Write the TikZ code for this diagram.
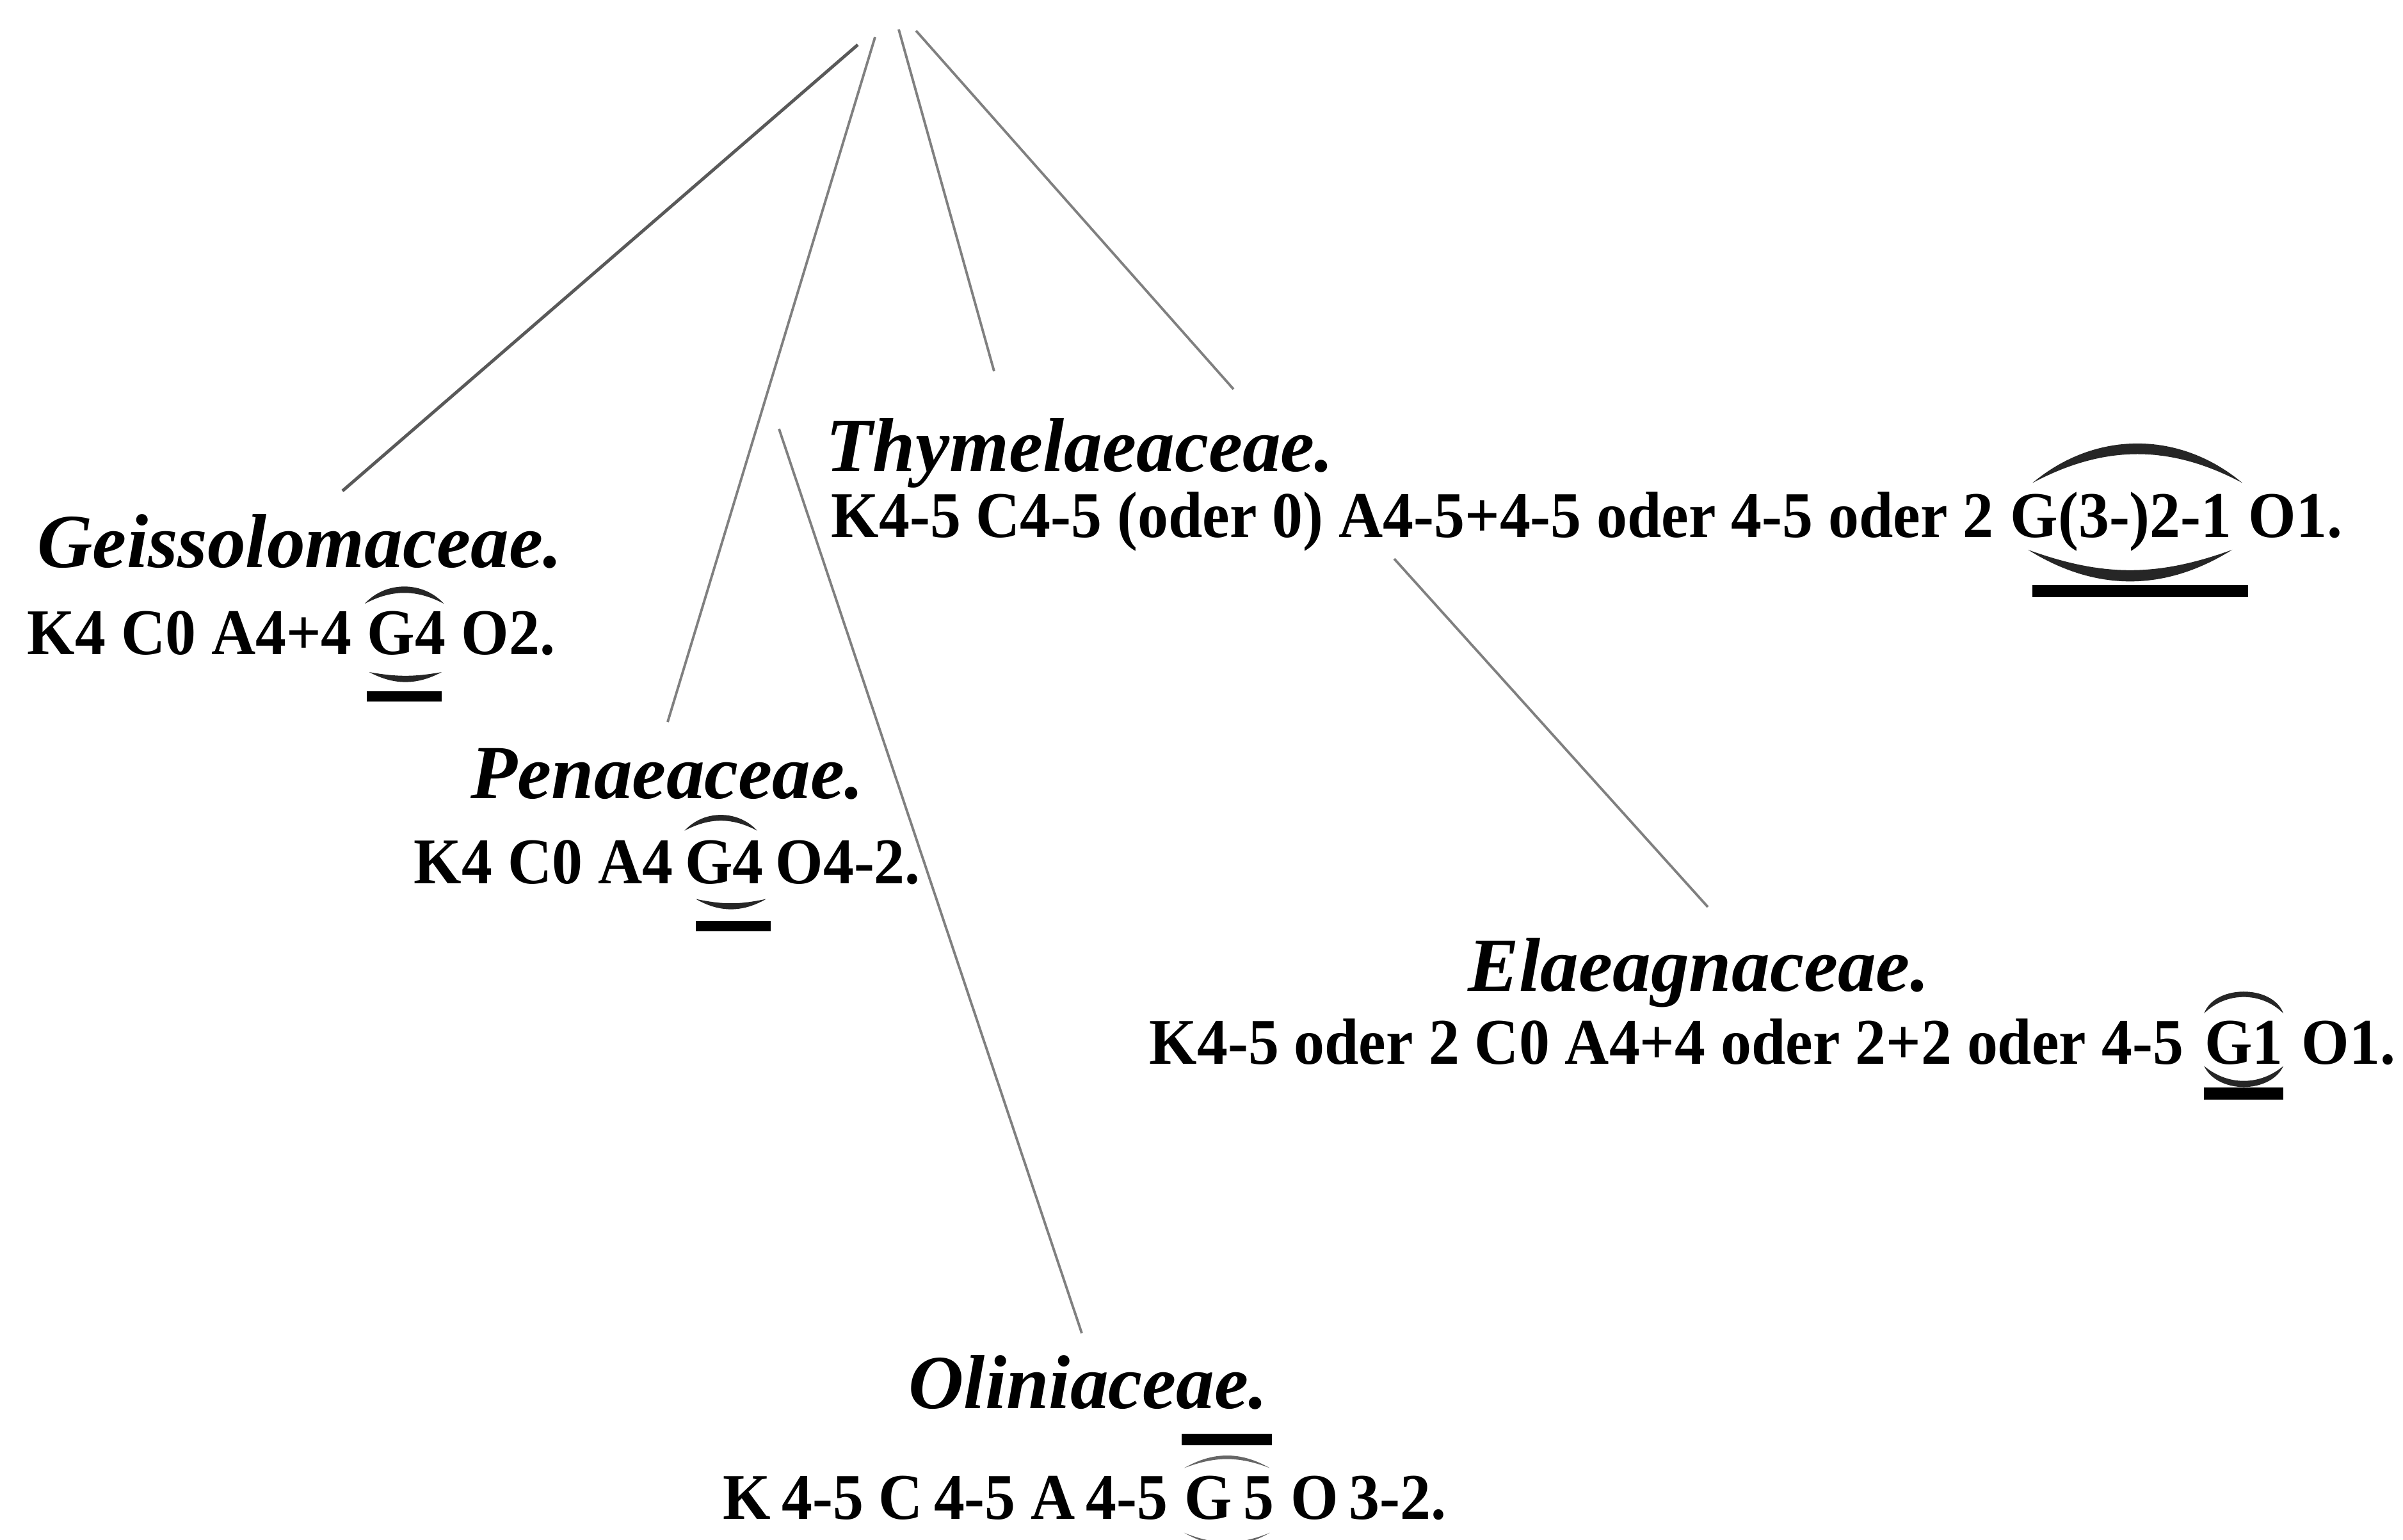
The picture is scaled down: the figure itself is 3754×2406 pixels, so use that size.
\documentclass[tikz,border=0pt]{standalone}
\usepackage{fontspec}
\setmainfont{Liberation Serif}
\newfontfamily\namefam{Liberation Serif}
\newfontfamily\formfam[FakeStretch=0.94]{Liberation Serif}
\tikzset{
  famname/.style={font=\namefam\fontsize{34}{40}\selectfont\bfseries\itshape, anchor=base west, inner sep=0pt},
  formula/.style={font=\formfam\fontsize{29}{34}\selectfont\bfseries, anchor=base west, inner sep=0pt},
  branch/.style={draw=black!50, line width=1.1pt},
  tie/.style={fill=black!85},
  bar/.style={fill=black}
}

\begin{document}
\begin{tikzpicture}[x=0.1mm, y=-0.1mm]
\useasboundingbox (0,0) rectangle (3754,2406);

% family names
\node[famname] (geiss) at (58,887) {Geissolomaceae.};
\node[famname] (pen) at (735,1247) {Penaeaceae.};
\node[famname] (thym) at (1290,737) {Thymelaeaceae.};
\node[famname] (elae) at (2293,1548) {Elaeagnaceae.};
\node[famname] (oli) at (1419,2200) {Oliniaceae.};

% floral formulas
\node[formula] (geissk) at (42,1022) {K4 C0 A4+4};
\node[formula, xshift=6.5pt] (geissg) at (geissk.base east) {G4};
\node[formula, xshift=6.5pt] (geisso) at (geissg.base east) {O2.};

\node[formula] (penk) at (646,1380) {K4 C0 A4};
\node[formula, xshift=5pt] (peng) at (penk.base east) {G4};
\node[formula, xshift=5pt] (peno) at (peng.base east) {O4-2.};

\node[formula] (thymk) at (1298,840) {K4-5 C4-5 (oder 0) A4-5+4-5 oder 4-5 oder 2};
\node[formula, xshift=7pt] (thymg) at (thymk.base east) {G(3-)2-1};
\node[formula, xshift=7pt] (thymo) at (thymg.base east) {O1.};

\node[formula] (elaek) at (1795,1662) {K4-5 oder 2 C0 A4+4 oder 2+2 oder 4-5};
\node[formula, xshift=9pt] (elaeg) at (elaek.base east) {G1};
\node[formula, xshift=8pt] (elaeo) at (elaeg.base east) {O1.};

\node[formula] (olik) at (1129,2373) {K\,4-5 C\,4-5 A\,4-5};
\node[formula, xshift=7pt] (olig) at (olik.base east) {G\,5};
\node[formula, xshift=7pt] (olio) at (olig.base east) {O\,3-2.};

% branches
\coordinate (t1) at (1340,70);
\coordinate (t2) at (1367,58);
\coordinate (t3) at (1217,670);
\coordinate (t4) at (1404,46);
\coordinate (t5) at (1431,48);
\coordinate (t6) at (2178,873);
\draw[branch, draw=black!65, line width=1.4pt] (t1) -- ([shift={(477,-120)}]geiss.base west);
\draw[branch] (t2) -- ([shift={(308,-119)}]pen.base west);
\draw[branch] (t3) -- ([shift={(271,-117)}]oli.base west);
\draw[branch] (t4) -- ([shift={(263,-157)}]thym.base west);
\draw[branch] (t5) -- ([shift={(637,-129)}]thym.base west);
\draw[branch] (t6) -- ([shift={(375,-131)}]elae.base west);

% arcs and bars round G
\fill[tie] ([shift={(-1pt,3pt)}]geissg.north west) to[bend left=48] ([shift={(-1pt,3pt)}]geissg.north east) to[bend right=28] ([shift={(-1pt,3pt)}]geissg.north west);
\fill[tie] ([shift={(1pt,-7.5pt)}]geissg.south west) to[bend right=28] ([shift={(-2pt,-7.5pt)}]geissg.south east) to[bend left=10] ([shift={(1pt,-7.5pt)}]geissg.south west);
\fill[bar] ([shift={(0pt,-16pt)}]geissg.south west) rectangle ([shift={(-2pt,-20.5pt)}]geissg.south east);

\fill[tie] ([shift={(0pt,4pt)}]peng.north west) to[bend left=48] ([shift={(-3pt,4pt)}]peng.north east) to[bend right=28] ([shift={(0pt,4pt)}]peng.north west);
\fill[tie] ([shift={(5pt,-6.5pt)}]peng.south west) to[bend right=30] ([shift={(1pt,-6.5pt)}]peng.south east) to[bend left=12] ([shift={(5pt,-6.5pt)}]peng.south west);
\fill[bar] ([shift={(5pt,-16.2pt)}]peng.south west) rectangle ([shift={(3pt,-20.8pt)}]peng.south east);

\fill[tie] ([shift={(10pt,4pt)}]thymg.north west) to[bend left=40] ([shift={(4.5pt,4pt)}]thymg.north east) to[bend right=28] ([shift={(10pt,4pt)}]thymg.north west);
\fill[tie] ([shift={(8pt,1pt)}]thymg.south west) to[bend right=32] ([shift={(0pt,1pt)}]thymg.south east) to[bend left=20] ([shift={(8pt,1pt)}]thymg.south west);
\fill[bar] ([shift={(10pt,-14.6pt)}]thymg.south west) rectangle ([shift={(7pt,-20pt)}]thymg.south east);

\fill[tie] ([shift={(0pt,3pt)}]elaeg.north west) to[bend left=70] ([shift={(0pt,3pt)}]elaeg.north east) to[bend right=45] ([shift={(0pt,3pt)}]elaeg.north west);
\fill[tie] ([shift={(0pt,-0.5pt)}]elaeg.south west) to[bend right=65] ([shift={(0pt,-0.5pt)}]elaeg.south east) to[bend left=40] ([shift={(0pt,-0.5pt)}]elaeg.south west);
\fill[bar] ([shift={(0pt,-10pt)}]elaeg.south west) rectangle ([shift={(0pt,-15.5pt)}]elaeg.south east);

\fill[bar] ([shift={(-1pt,13.4pt)}]olig.north west) rectangle ([shift={(-1pt,18.4pt)}]olig.north east);
\fill[tie, fill=black!60] ([shift={(0pt,3.2pt)}]olig.north west) to[bend left=30] ([shift={(-2pt,3.2pt)}]olig.north east) to[bend right=21] ([shift={(0pt,3.2pt)}]olig.north west);
\fill[tie, fill=black!60] ([shift={(0pt,-5.7pt)}]olig.south west) to[bend right=30] ([shift={(-2pt,-5.7pt)}]olig.south east) to[bend left=22] ([shift={(0pt,-5.7pt)}]olig.south west);
\end{tikzpicture}
\end{document}
